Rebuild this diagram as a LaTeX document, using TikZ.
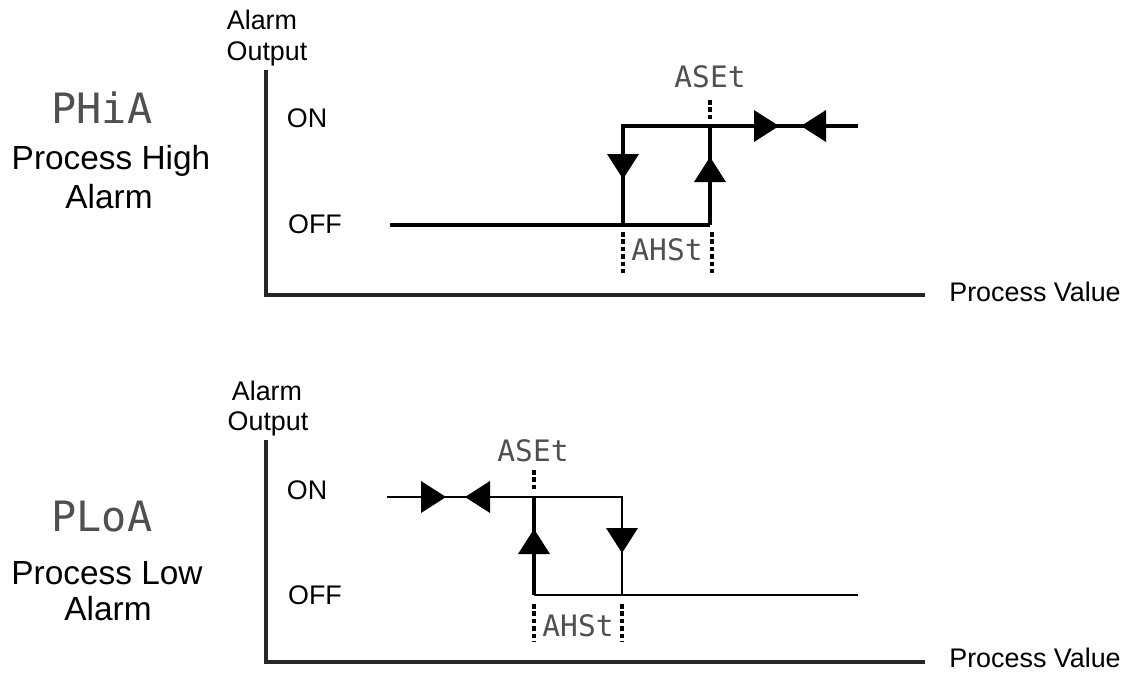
\documentclass[tikz,border=0pt]{standalone}
\usepackage{fontspec}
\setmainfont{Liberation Sans}
\newfontfamily\segfont{DejaVu Sans Mono}
\definecolor{segcol}{RGB}{80,80,80}
\tikzset{
  axislbl/.style={font=\fontsize{15.3}{16}\selectfont, inner sep=0pt, anchor=base},
  sidelbl/.style={font=\fontsize{19}{20}\selectfont, inner sep=0pt, anchor=base},
  seglbl/.style={font=\segfont\fontsize{16.8}{18}\selectfont, text=segcol, inner sep=0pt},
  bigseg/.style={font=\segfont\fontsize{23.8}{25}\selectfont, text=segcol, inner sep=0pt},
  axisline/.style={line width=2pt, black!85},
  thick line/.style={line width=2.1pt},
  thin line/.style={line width=1.2pt},
  dotline/.style={line width=1.8pt, dash pattern=on 2.6pt off 1.6pt},
  arrowtri/.pic={\fill (0,0) -- (-25,-16) -- (-25,16) -- cycle;}
}
\begin{document}
\begin{tikzpicture}[x=0.02cm,y=-0.02cm]
\useasboundingbox (0,0) rectangle (1125,673);

% ---------------- Top panel ----------------
\node[bigseg] (phia) at (102,108) {PHiA};
\node[sidelbl] (pht1) at (111,169) {Process High};
\node[sidelbl] (pht2) at (109,208) {Alarm};

\node[axislbl] (tal) at (262,29) {Alarm};
\node[axislbl] (tout) at (267,60) {Output};
\node[axislbl] (ton) at (307,127) {ON};
\node[axislbl] (toff) at (315,233) {OFF};
\node[axislbl] (tpv) at (1035,301) {Process Value};

\coordinate (tax0) at (266,70);
\coordinate (tax1) at (266,295);
\coordinate (tax2) at (925,295);
\draw[axisline] (tax0) -- (tax1) -- (tax2);

\coordinate (toffs) at (390,225);
\coordinate (ta) at (623,225);
\coordinate (tb) at (710,225);
\coordinate (tc) at (623,126);
\coordinate (td) at (710,126);
\coordinate (tend) at (858,126);
\draw[thick line] (toffs) -- (tb);
\draw[thick line] (ta) -- (tc) -- (tend);
\draw[thick line] (tb) -- (td);

\pic[rotate=-90] at (623,179) {arrowtri};
\pic[rotate=90] at (710,157) {arrowtri};
\pic at (779,126) {arrowtri};
\pic[rotate=180] at (801,126) {arrowtri};

\node[seglbl] (taset) at (710,77) {ASEt};
\coordinate (tas0) at (710,100);
\coordinate (tas1) at (710,121);
\draw[dotline] (tas0) -- (tas1);

\node[seglbl] (tahst) at (667,250) {AHSt};
\coordinate (th0) at (623,232);
\coordinate (th1) at (623,276);
\coordinate (th2) at (712,232);
\coordinate (th3) at (712,276);
\draw[dotline] (th0) -- (th1);
\draw[dotline] (th2) -- (th3);

% ---------------- Bottom panel ----------------
\node[bigseg] (ploa) at (102,517) {PLoA};
\node[sidelbl] (plt1) at (107,584) {Process Low};
\node[sidelbl] (plt2) at (108,620) {Alarm};

\node[axislbl] (bal) at (267,400) {Alarm};
\node[axislbl] (bout) at (268,430) {Output};
\node[axislbl] (bon) at (307,499) {ON};
\node[axislbl] (boff) at (315,604) {OFF};
\node[axislbl] (bpv) at (1035,667) {Process Value};

\coordinate (bax0) at (266,440);
\coordinate (bax1) at (266,662);
\coordinate (bax2) at (925,662);
\draw[axisline] (bax0) -- (bax1) -- (bax2);

\coordinate (bons) at (387,497);
\coordinate (bc) at (534,497);
\coordinate (bd) at (622,497);
\coordinate (ba) at (534,595);
\coordinate (bb) at (622,595);
\coordinate (bend) at (858,595);
\draw[thin line] (bons) -- (bd) -- (bb);
\draw[thin line] (ba) -- (bend);
\draw[thick line] (ba) -- (bc);

\pic at (446,497) {arrowtri};
\pic[rotate=180] at (465,497) {arrowtri};
\pic[rotate=90] at (534,529) {arrowtri};
\pic[rotate=-90] at (622,553) {arrowtri};

\node[seglbl] (baset) at (533,451) {ASEt};
\coordinate (bas0) at (534,470);
\coordinate (bas1) at (534,490);
\draw[dotline] (bas0) -- (bas1);

\node[seglbl] (bahst) at (578,626) {AHSt};
\coordinate (bh0) at (534,604);
\coordinate (bh1) at (534,641);
\coordinate (bh2) at (622,604);
\coordinate (bh3) at (622,641);
\draw[dotline] (bh0) -- (bh1);
\draw[dotline] (bh2) -- (bh3);
\end{tikzpicture}
\end{document}
